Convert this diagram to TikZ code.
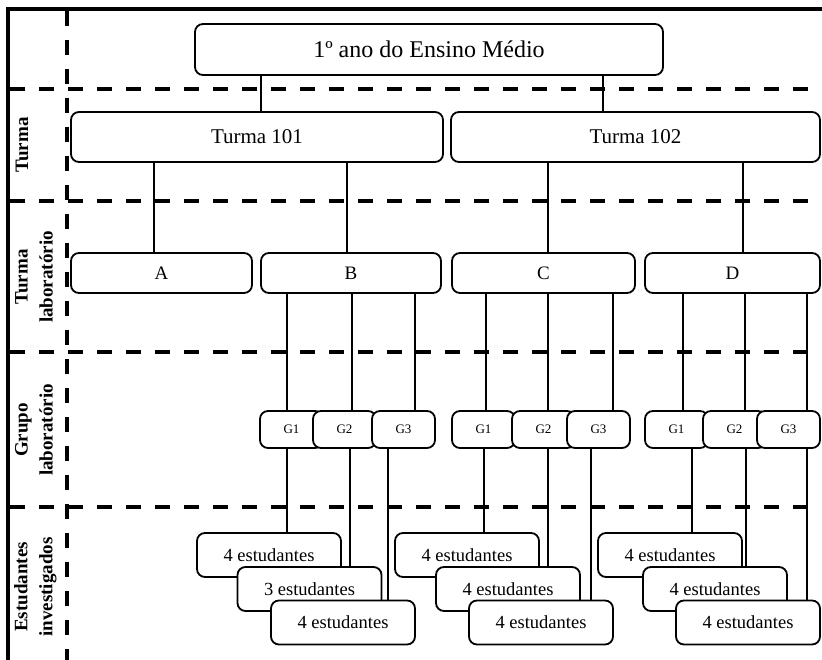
\documentclass[tikz,border=0pt]{standalone}
\usepackage{fontspec}
\setmainfont{Liberation Serif}
\usetikzlibrary{calc}
\definecolor{orgInk}{HTML}{000000}
\tikzset{
  bx/.style={draw=orgInk, fill=white, rounded corners=8pt, line width=1.8pt, outer sep=0pt, inner sep=2pt, align=center},
  bxTop/.style={bx, minimum width=468pt, minimum height=51pt, font=\fontsize{24}{28}\selectfont},
  bxT/.style={bx, minimum height=50pt, font=\fontsize{21}{25}\selectfont},
  bxL/.style={bx, minimum height=40pt, font=\fontsize{19}{23}\selectfont},
  bxG/.style={bx, minimum width=63pt, minimum height=37pt, font=\fontsize{13}{16}\selectfont},
  bxE/.style={bx, minimum width=144pt, minimum height=44pt, font=\fontsize{18.5}{22}\selectfont},
  lbl/.style={rotate=90, align=center, inner sep=0pt, font=\bfseries\fontsize{19}{25}\selectfont},
  frm/.style={line width=4.3pt, draw=orgInk},
  divline/.style={line width=4.3pt, draw=orgInk, dash pattern=on 15pt off 14pt},
  lnk/.style={line width=2pt, draw=orgInk},
}
\begin{document}
\begin{tikzpicture}[x=1pt,y=-1pt]
  \useasboundingbox (0,0) rectangle (822,660);
  % frame and level separators
  \draw[frm] (822,9) -- (8,9) -- (8,660);
  \draw[divline] (67,11) -- (67,660);
  \foreach \yy in {89,201,352,507}
    \draw[divline] (10,\yy) -- (822,\yy);
  % level labels
  \node[lbl] (lvT) at (22,145) {Turma};
  \node[lbl] (lvL) at (34,277) {Turma\\laboratório};
  \node[lbl] (lvG) at (34,430) {Grupo\\laboratório};
  \node[lbl] (lvE) at (35.5,587) {Estudantes\\investigados};
  % boxes
  \node[bxTop] (top) at (429,49.5) {1º ano do Ensino Médio};
  \node[bxT, minimum width=372pt] (T101) at (257,137) {Turma 101};
  \node[bxT, minimum width=369pt] (T102) at (635.5,137) {Turma 102};
  \node[bxL, minimum width=181pt] (A) at (161.5,273) {A};
  \node[bxL, minimum width=180pt] (B) at (351,273) {B};
  \node[bxL, minimum width=183pt] (C) at (543.5,273) {C};
  \node[bxL, minimum width=175pt] (D) at (732.5,273) {D};
  \foreach \cx/\nm/\txt in {291.5/gB1/G1, 344.5/gB2/G2, 403.5/gB3/G3,
      483.5/gC1/G1, 543.5/gC2/G2, 598.5/gC3/G3,
      676.5/gD1/G1, 734.5/gD2/G2, 788.5/gD3/G3}
    \node[bxG] (\nm) at (\cx,429.5) {\txt};
  \foreach \cx/\cy/\nm/\txt in {269/555/eB1/4, 309.5/589/eB2/3, 343/622.5/eB3/4,
      467/555/eC1/4, 508/589/eC2/4, 541/622.5/eC3/4,
      670/555/eD1/4, 715/589/eD2/4, 748/622.5/eD3/4}
    \node[bxE] (\nm) at (\cx,\cy) {\txt\ estudantes};
  % connectors
  \foreach \xx/\from/\to in {261/top/T101, 603/top/T102,
      154/T101/A, 347/T101/B, 548/T102/C, 743/T102/D,
      287/B/gB1, 351.7/B/gB2, 415/B/gB3,
      485.7/C/gC1, 548/C/gC2, 613/C/gC3,
      683/D/gD1, 745/D/gD2, 806.7/D/gD3,
      287/gB1/eB1, 350/gB2/eB2, 388/gB3/eB3,
      484/gC1/eC1, 548/gC2/eC2, 591/gC3/eC3,
      692/gD1/eD1, 746/gD2/eD2, 807/gD3/eD3}
    \draw[lnk] (\from.south -| \xx,0) -- (\to.north -| \xx,0);
\end{tikzpicture}
\end{document}
